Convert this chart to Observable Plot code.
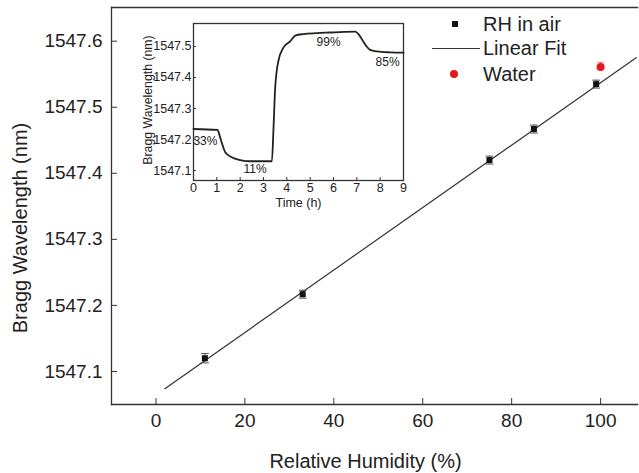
<!DOCTYPE html>
<html><head><meta charset="utf-8">
<script src="https://cdn.jsdelivr.net/npm/d3@7"></script>
<script src="https://cdn.jsdelivr.net/npm/@observablehq/plot@0.6"></script>
<style>
body{margin:0;background:#fff;}
#wrap{position:relative;width:639px;height:473px;font-family:Arial,"Liberation Sans",sans-serif;color:#222;overflow:hidden;}
#inset{position:absolute;left:140px;top:15px;}
.lg{position:absolute;font-size:20px;line-height:20px;white-space:nowrap;}
.sw{position:absolute;}
</style></head><body><div id="wrap"></div>
<script>
// Main chart data
const rhAir = [11, 33, 75, 85, 99];
const wlAir = [1547.120, 1547.217, 1547.420, 1547.467, 1547.535];
const errAir = [0.007, 0.006, 0.006, 0.006, 0.006];
const rhWater = [100];
const wlWater = [1547.561];
const errWater = [0.007];
const fitX = [2, 108];
const fitY = [1547.074, 1547.575];
const xTicks = [0, 20, 40, 60, 80, 100];
const yTicks = [1547.1, 1547.2, 1547.3, 1547.4, 1547.5, 1547.6];

// Inset data
const tHours = [0, 1.03, 1.14, 1.36, 1.64, 2.0, 2.43, 3.36, 3.43, 3.5, 3.64, 3.86, 4.14, 4.36, 4.71, 5.29, 5.86, 6.43, 6.93, 7.07, 7.21, 7.4, 7.57, 7.86, 8.43, 9.0];
const wlTime = [1547.234, 1547.231, 1547.207, 1547.159, 1547.143, 1547.134, 1547.130, 1547.130, 1547.239, 1547.366, 1547.454, 1547.497, 1547.516, 1547.535, 1547.540, 1547.543, 1547.545, 1547.547, 1547.548, 1547.540, 1547.524, 1547.502, 1547.489, 1547.484, 1547.481, 1547.480];
const insetLabels = ["33%", "11%", "99%", "85%"];
const insetLabelT = [0.51, 2.64, 5.79, 8.32];
const insetLabelW = [1547.196, 1547.105, 1547.513, 1547.448];
const insetXTicks = [0, 1, 2, 3, 4, 5, 6, 7, 8, 9];
const insetYTicks = [1547.1, 1547.2, 1547.3, 1547.4, 1547.5];

const legendNames = ["RH in air", "Linear Fit", "Water"];

const air = rhAir.map((x, i) => ({x, y: wlAir[i], e: errAir[i]}));
const water = rhWater.map((x, i) => ({x, y: wlWater[i], e: errWater[i]}));
const fit = fitX.map((x, i) => ({x, y: fitY[i]}));
const series = tHours.map((t, i) => ({t, w: wlTime[i]}));
const labs = insetLabels.map((s, i) => ({s, t: insetLabelT[i], w: insetLabelW[i]}));

const capSymbol = {draw(ctx, size) { const r = Math.sqrt(size / Math.PI); ctx.moveTo(-r, 0); ctx.lineTo(r, 0); }};
const FONT = "Arial, 'Liberation Sans', sans-serif";
const ink = "#222";

const main = Plot.plot({
  width: 639, height: 473,
  marginLeft: 111, marginRight: 2, marginTop: 7, marginBottom: 69,
  style: {fontFamily: FONT, fontSize: "19px", color: ink, background: "white", overflow: "visible"},
  x: {domain: [-10, 108.3]},
  y: {domain: [1547.05, 1547.651]},
  marks: [
    Plot.frame({anchor: "left", stroke: "#333", strokeWidth: 1.3}),
    Plot.frame({anchor: "bottom", stroke: "#333", strokeWidth: 1.3}),
    Plot.frame({anchor: "top", stroke: "#333", strokeWidth: 1.3}),
    Plot.axisX({ticks: xTicks, tickSize: -6, tickPadding: 15, label: null, fontSize: 19, stroke: "#333"}),
    Plot.axisY({ticks: yTicks, tickSize: -6, tickPadding: 15, tickFormat: d3.format(".1f"), label: null, fontSize: 19, stroke: "#333"}),
    Plot.text(["Relative Humidity (%)"], {frameAnchor: "bottom", textAnchor: "middle", lineAnchor: "middle", dy: 57, dx: -9, fontSize: 20, fill: ink}),
    Plot.text(["Bragg Wavelength (nm)"], {frameAnchor: "left", textAnchor: "middle", lineAnchor: "middle", rotate: -90, dx: -91, dy: 22, fontSize: 20, fill: ink}),
    Plot.line(fit, {x: "x", y: "y", stroke: "#333", strokeWidth: 1.2}),
    Plot.ruleX(air, {x: "x", y1: d => d.y - d.e, y2: d => d.y + d.e, stroke: "#555", strokeWidth: 1}),
    Plot.dot(air, {x: "x", y: d => d.y - d.e, symbol: capSymbol, r: 4, stroke: "#555", strokeWidth: 1}),
    Plot.dot(air, {x: "x", y: d => d.y + d.e, symbol: capSymbol, r: 4, stroke: "#555", strokeWidth: 1}),
    Plot.dot(air, {x: "x", y: "y", symbol: "square", r: 3.4, fill: "#111", stroke: null}),
    Plot.ruleX(water, {x: "x", y1: d => d.y - d.e, y2: d => d.y + d.e, stroke: "#e88", strokeWidth: 1}),
    Plot.dot(water, {x: "x", y: d => d.y + d.e, symbol: capSymbol, r: 3.5, stroke: "#e88", strokeWidth: 1}),
    Plot.dot(water, {x: "x", y: "y", r: 4, fill: "#e8141c", stroke: null})
  ]
});

const inset = Plot.plot({
  width: 270, height: 200,
  marginLeft: 53, marginRight: 7, marginTop: 8, marginBottom: 35,
  style: {fontFamily: FONT, fontSize: "12px", color: ink, background: "white", overflow: "visible"},
  x: {domain: [0, 9]},
  y: {domain: [1547.068, 1547.574]},
  marks: [
    Plot.frame({stroke: "#333", strokeWidth: 1.3}),
    Plot.axisX({ticks: insetXTicks, tickSize: -3, tickPadding: 6, label: null, fontSize: 12.5, stroke: "#333"}),
    Plot.axisY({ticks: insetYTicks, tickSize: -3, tickPadding: 5, tickFormat: d3.format(".1f"), label: null, fontSize: 12.5, stroke: "#333"}),
    Plot.text(["Time (h)"], {frameAnchor: "bottom", textAnchor: "middle", lineAnchor: "middle", dy: 22, fontSize: 12.5, fill: ink}),
    Plot.text(["Bragg Wavelength (nm)"], {frameAnchor: "left", textAnchor: "middle", lineAnchor: "middle", rotate: -90, dx: -45, dy: -2, fontSize: 12.3, fill: ink}),
    Plot.line(series, {x: "t", y: "w", stroke: "#222", strokeWidth: 1.8, curve: "monotone-x"}),
    Plot.text(labs, {x: "t", y: "w", text: "s", fontSize: 12, fill: ink})
  ]
});
inset.id = "inset";

const wrap = document.getElementById("wrap");
wrap.appendChild(main);
wrap.appendChild(inset);

// Legend
const legTop = [24, 48, 74];
legendNames.forEach((name, i) => {
  const t = document.createElement("div");
  t.className = "lg";
  t.textContent = name;
  t.style.left = "483px";
  t.style.top = (legTop[i] - 10) + "px";
  wrap.appendChild(t);
});
const sq = document.createElement("div");
sq.className = "sw";
Object.assign(sq.style, {left: "452px", top: "21px", width: "6px", height: "6px", background: "#111"});
wrap.appendChild(sq);
const ln = document.createElement("div");
ln.className = "sw";
Object.assign(ln.style, {left: "432px", top: "47.5px", width: "48px", height: "1.3px", background: "#333"});
wrap.appendChild(ln);
const rd = document.createElement("div");
rd.className = "sw";
Object.assign(rd.style, {left: "450px", top: "70px", width: "8px", height: "8px", borderRadius: "50%", background: "#e8141c"});
wrap.appendChild(rd);
</script>
</body></html>
